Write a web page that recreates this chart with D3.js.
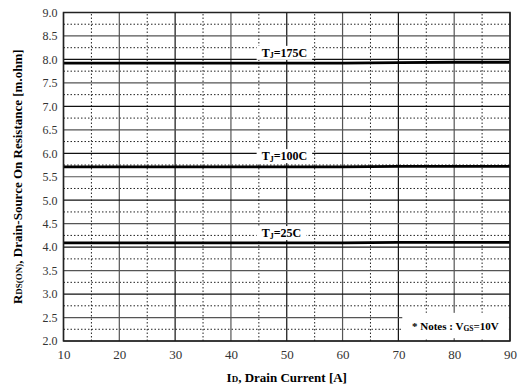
<!DOCTYPE html>
<html>
<head>
<meta charset="utf-8">
<script src="https://cdn.jsdelivr.net/npm/d3@7"></script>
<style>
  body { margin: 0; background: #fff; }
  text { font-family: "Liberation Serif", "DejaVu Serif", serif; }
</style>
</head>
<body>
<div id="chart"></div>
<script>
// drain current points [A]
const current = [10, 20, 30, 40, 50, 60, 70, 80, 90];
// Rds(on) [m.ohm] per junction temperature
const rds175 = [7.92, 7.92, 7.92, 7.92, 7.92, 7.92, 7.93, 7.94, 7.94];
const rds100 = [5.71, 5.71, 5.71, 5.71, 5.71, 5.71, 5.72, 5.72, 5.72];
const rds25 = [4.09, 4.09, 4.09, 4.09, 4.09, 4.09, 4.10, 4.10, 4.10];
const seriesNames = ["175C", "100C", "25C"];
const xTicks = [10, 20, 30, 40, 50, 60, 70, 80, 90];
const yTicks = [2.0, 2.5, 3.0, 3.5, 4.0, 4.5, 5.0, 5.5, 6.0, 6.5, 7.0, 7.5, 8.0, 8.5, 9.0];

const w = 525;
const h = 389;
const margin = { left: 63.5, right: 15, top: 12.5, bottom: 48 };

const xScale = d3.scaleLinear()
  .domain([10, 90])
  .range([margin.left, w - margin.right]);

const yScale = d3.scaleLinear()
  .domain([2, 9])
  .range([h - margin.bottom, margin.top]);

const svg = d3.select("#chart")
  .append("svg")
  .attr("width", w)
  .attr("height", h);

// minor dotted grid
const minorX = d3.range(15, 90, 10);
const minorY = d3.range(2.25, 9, 0.5);

svg.append("g")
  .selectAll("line")
  .data(minorX)
  .join("line")
    .attr("x1", d => xScale(d))
    .attr("x2", d => xScale(d))
    .attr("y1", yScale(2))
    .attr("y2", yScale(9))
    .attr("stroke", "#222")
    .attr("stroke-width", 1)
    .attr("stroke-dasharray", "1.5,2");

svg.append("g")
  .selectAll("line")
  .data(minorY)
  .join("line")
    .attr("x1", xScale(10))
    .attr("x2", xScale(90))
    .attr("y1", d => yScale(d))
    .attr("y2", d => yScale(d))
    .attr("stroke", "#222")
    .attr("stroke-width", 1)
    .attr("stroke-dasharray", "1.5,2");

// major solid grid
svg.append("g")
  .selectAll("line")
  .data(xTicks)
  .join("line")
    .attr("x1", d => xScale(d))
    .attr("x2", d => xScale(d))
    .attr("y1", yScale(2))
    .attr("y2", yScale(9))
    .attr("stroke", (d, i) => i % 2 ? "#555" : "#111")
    .attr("stroke-width", 1.2);

svg.append("g")
  .selectAll("line")
  .data(yTicks)
  .join("line")
    .attr("x1", xScale(10))
    .attr("x2", xScale(90))
    .attr("y1", d => yScale(d))
    .attr("y2", d => yScale(d))
    .attr("stroke", (d, i) => i % 2 ? "#555" : "#111")
    .attr("stroke-width", 1.2);

// axes (labels only)
const xAxis = d3.axisBottom(xScale).tickValues(xTicks).tickSize(0).tickPadding(9);
const yAxis = d3.axisLeft(yScale).tickValues(yTicks).tickSize(0).tickPadding(6)
  .tickFormat(d3.format(".1f"));

svg.append("g")
  .attr("transform", `translate(0, ${yScale(2)})`)
  .call(xAxis)
  .call(g => g.select(".domain").remove())
  .selectAll("text")
    .attr("font-size", 13)
    .attr("font-family", "Liberation Serif, serif")
    .attr("fill", "#333");

svg.append("g")
  .attr("transform", `translate(${xScale(10)}, 0)`)
  .call(yAxis)
  .call(g => g.select(".domain").remove())
  .selectAll("text")
    .attr("font-size", 12)
    .attr("font-family", "Liberation Serif, serif")
    .attr("fill", "#333");

// curves
const series = [rds175, rds100, rds25];
const line = d3.line()
  .x((d, i) => xScale(current[i]))
  .y(d => yScale(d));

svg.append("g")
  .selectAll("path")
  .data(series)
  .join("path")
    .attr("d", d => line(d))
    .attr("fill", "none")
    .attr("stroke", "#000")
    .attr("stroke-width", 2.8);

// curve labels on white patches
const labelY = [8.14, 5.94, 4.30];
const labelG = svg.append("g")
  .selectAll("g")
  .data(seriesNames)
  .join("g")
    .attr("transform", (d, i) => `translate(${xScale(45.5)}, ${yScale(labelY[i])})`);
const bg = labelG.append("rect").attr("fill", "#fff");
const labels = labelG.append("text")
  .attr("y", 4)
  .attr("font-size", 12)
  .attr("font-weight", "bold");
labels.append("tspan").text("T");
labels.append("tspan").attr("font-size", 8).attr("dy", 1.5).text("J");
labels.append("tspan").attr("dy", -1.5).text(d => "=" + d);
labels.each(function (d, i) {
  const b = this.getBBox();
  d3.select(bg.nodes()[i])
    .attr("x", b.x - 5)
    .attr("y", -7)
    .attr("width", b.width + 10)
    .attr("height", 14);
});

// notes box
svg.append("rect")
  .attr("x", xScale(70.7))
  .attr("y", yScale(2.6))
  .attr("width", xScale(89.8) - xScale(70.7))
  .attr("height", yScale(2.06) - yScale(2.6))
  .attr("fill", "#fff");

const note = svg.append("text")
  .attr("x", xScale(80.2))
  .attr("y", yScale(2.33) + 4)
  .attr("text-anchor", "middle")
  .attr("font-size", 11)
  .attr("font-weight", "bold");
note.append("tspan").text("* Notes : V");
note.append("tspan").attr("font-size", 7.5).attr("dy", 1).text("GS");
note.append("tspan").attr("dy", -1).text("=10V");

// frame
svg.append("rect")
  .attr("x", xScale(10))
  .attr("y", yScale(9))
  .attr("width", xScale(90) - xScale(10))
  .attr("height", yScale(2) - yScale(9))
  .attr("fill", "none")
  .attr("stroke", "#222")
  .attr("stroke-width", 1.5);

// axis titles
const xt = svg.append("text")
  .attr("x", (xScale(10) + xScale(90)) / 2 + 0)
  .attr("y", h - 7)
  .attr("text-anchor", "middle")
  .attr("font-size", 13)
  .attr("font-weight", "bold");
xt.append("tspan").text("I");
xt.append("tspan").attr("font-size", 9).text("D");
xt.append("tspan").text(", Drain Current [A]");

const yt = svg.append("text")
  .attr("transform", `translate(22, ${(yScale(2) + yScale(9)) / 2}) rotate(-90)`)
  .attr("text-anchor", "middle")
  .attr("font-size", 13)
  .attr("font-weight", "bold");
yt.append("tspan").text("R");
yt.append("tspan").attr("font-size", 9).text("DS(ON)");
yt.append("tspan").text(", Drain-Source On Resistance [m.ohm]");
</script>
</body>
</html>
